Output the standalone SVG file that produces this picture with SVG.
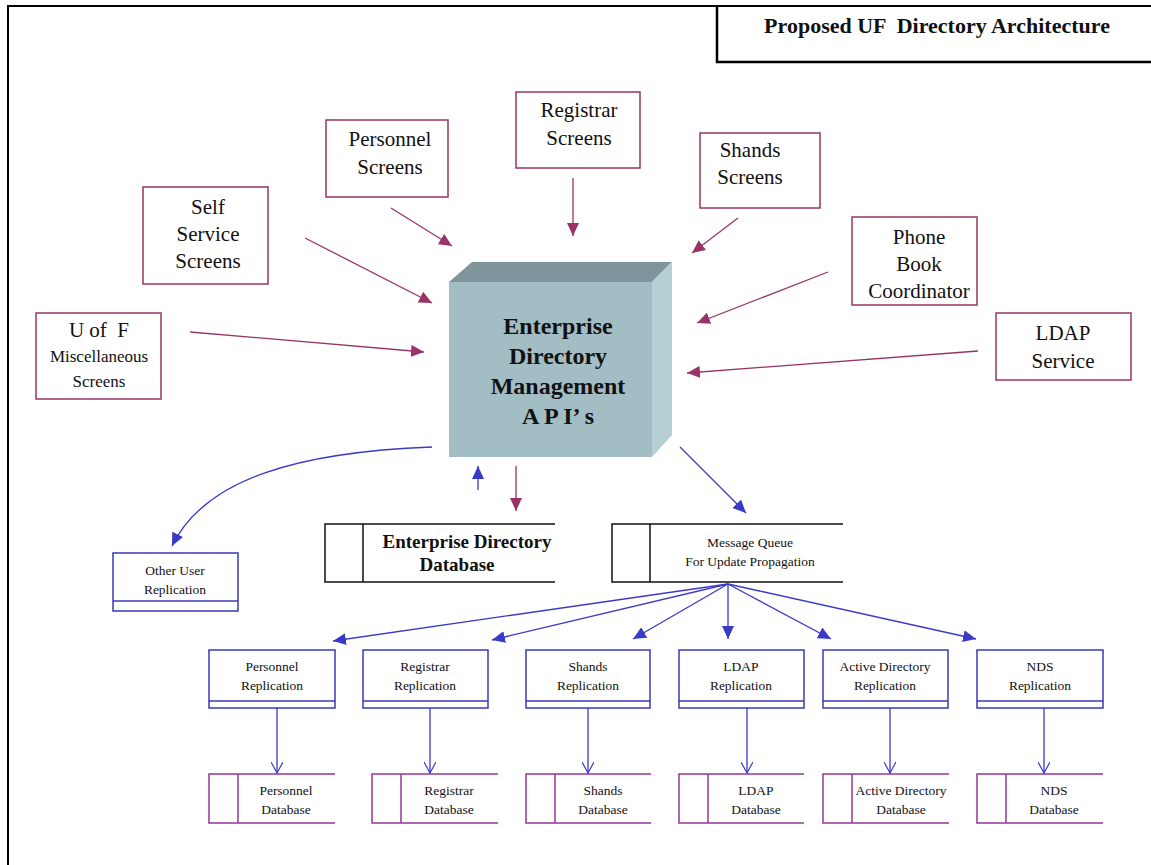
<svg xmlns="http://www.w3.org/2000/svg" width="1151" height="865" viewBox="0 0 1151 865">
<style>
text{font-family:"Liberation Serif","Times New Roman",serif;fill:#111;text-anchor:middle;white-space:pre}
.scr{fill:#fff;stroke:#993366;stroke-width:1.5}
.scrt{font-size:21px}
.rep{fill:#fff;stroke:#3a3ab8;stroke-width:1.5}
.rept{font-size:13.5px}
.db{fill:none;stroke:#993399;stroke-width:1.5}
.dbk{fill:none;stroke:#111;stroke-width:1.5}
.ma{fill:none;stroke:#993366;stroke-width:1.3;marker-end:url(#mh)}
.ba{fill:none;stroke:#3a3ac8;stroke-width:1.3;marker-end:url(#bh)}
.bv{fill:none;stroke:#3a3ac8;stroke-width:1.3;marker-end:url(#bv)}
</style>
<defs>
<marker id="mh" markerUnits="userSpaceOnUse" markerWidth="14" markerHeight="12" refX="13" refY="6" orient="auto"><path d="M0,0 L13,6 L0,12 z" fill="#993366"/></marker>
<marker id="bh" markerUnits="userSpaceOnUse" markerWidth="14" markerHeight="12" refX="13" refY="6" orient="auto"><path d="M0,0 L13,6 L0,12 z" fill="#3a3ac8"/></marker>
<marker id="bv" markerUnits="userSpaceOnUse" markerWidth="12" markerHeight="12" refX="11" refY="6" orient="auto"><path d="M0,0 L11,6 L0,12" fill="none" stroke="#3a3ac8" stroke-width="1.2"/></marker>
</defs>
<rect width="1151" height="865" fill="#fff"/>
<g id="frame" fill="none" stroke="#000">
<path d="M8,865 V6 H1151" stroke-width="2"/>
<path d="M717,6 V62 H1151" stroke-width="2.5"/>
</g>
<g id="title"><text x="937" y="33" font-size="22" font-weight="bold" xml:space="preserve">Proposed UF  Directory Architecture</text></g>

<g id="api">
<polygon points="449,282 472,262 672,262 652,282" fill="#7d959b"/>
<polygon points="652,282 672,262 672,435 652,457" fill="#b6cfd5"/>
<rect x="449" y="282" width="203" height="175" fill="#a3bdc4"/>
<g font-size="24" font-weight="bold">
<text x="558" y="334">Enterprise</text>
<text x="558" y="364">Directory</text>
<text x="558" y="394">Management</text>
<text x="558" y="424">A P I’ s</text>
</g>
</g>

<g id="personnel-screens"><rect class="scr" x="326" y="120" width="122" height="77"/><text class="scrt" x="390" y="146">Personnel</text><text class="scrt" x="390" y="174">Screens</text></g>
<g id="registrar-screens"><rect class="scr" x="516" y="92" width="124" height="76"/><text class="scrt" x="579" y="117">Registrar</text><text class="scrt" x="579" y="145">Screens</text></g>
<g id="shands-screens"><rect class="scr" x="700" y="133" width="120" height="75"/><text class="scrt" x="750" y="157">Shands</text><text class="scrt" x="750" y="184">Screens</text></g>
<g id="self-service-screens"><rect class="scr" x="143" y="187" width="125" height="97"/><text class="scrt" x="208" y="214">Self</text><text class="scrt" x="208" y="241">Service</text><text class="scrt" x="208" y="268">Screens</text></g>
<g id="phone-book"><rect class="scr" x="852" y="217" width="125" height="88"/><text class="scrt" x="919" y="244">Phone</text><text class="scrt" x="919" y="271">Book</text><text class="scrt" x="919" y="298">Coordinator</text></g>
<g id="ldap-service"><rect class="scr" x="996" y="313" width="135" height="67"/><text class="scrt" x="1063" y="340">LDAP</text><text class="scrt" x="1063" y="368">Service</text></g>
<g id="uf-misc"><rect class="scr" x="36" y="313" width="125" height="86"/><text x="99" y="337" font-size="21" xml:space="preserve">U of  F</text><text x="99" y="362" font-size="17">Miscellaneous</text><text x="99" y="387" font-size="17">Screens</text></g>

<g id="ed-database"><path class="dbk" d="M555,524 H325 V582 H555 M363,524 V582"/><g font-size="19" font-weight="bold"><text x="467" y="548">Enterprise Directory</text><text x="457" y="571">Database</text></g></g>
<g id="message-queue"><path class="dbk" d="M843,524 H612 V582 H843 M650,524 V582"/><g font-size="13.5"><text x="750" y="547">Message Queue</text><text x="750" y="566">For Update Propagation</text></g></g>

<g id="other-user-replication"><rect class="rep" x="113" y="553" width="125" height="58"/><line x1="113" y1="601" x2="238" y2="601" stroke="#3a3ab8" stroke-width="1.5"/><text class="rept" x="175" y="575">Other User</text><text class="rept" x="175" y="594">Replication</text></g>

<g id="replications">
<g id="personnel-replication"><rect class="rep" x="209" y="650" width="126" height="58"/><line x1="209" y1="701" x2="335" y2="701" stroke="#3a3ab8" stroke-width="1.5"/><text class="rept" x="272" y="671">Personnel</text><text class="rept" x="272" y="690">Replication</text></g>
<g id="registrar-replication"><rect class="rep" x="363" y="650" width="125" height="58"/><line x1="363" y1="701" x2="488" y2="701" stroke="#3a3ab8" stroke-width="1.5"/><text class="rept" x="425" y="671">Registrar</text><text class="rept" x="425" y="690">Replication</text></g>
<g id="shands-replication"><rect class="rep" x="526" y="650" width="124" height="58"/><line x1="526" y1="701" x2="650" y2="701" stroke="#3a3ab8" stroke-width="1.5"/><text class="rept" x="588" y="671">Shands</text><text class="rept" x="588" y="690">Replication</text></g>
<g id="ldap-replication"><rect class="rep" x="679" y="650" width="125" height="58"/><line x1="679" y1="701" x2="804" y2="701" stroke="#3a3ab8" stroke-width="1.5"/><text class="rept" x="741" y="671">LDAP</text><text class="rept" x="741" y="690">Replication</text></g>
<g id="ad-replication"><rect class="rep" x="823" y="650" width="125" height="58"/><line x1="823" y1="701" x2="948" y2="701" stroke="#3a3ab8" stroke-width="1.5"/><text class="rept" x="885" y="671">Active Directory</text><text class="rept" x="885" y="690">Replication</text></g>
<g id="nds-replication"><rect class="rep" x="977" y="650" width="126" height="58"/><line x1="977" y1="701" x2="1103" y2="701" stroke="#3a3ab8" stroke-width="1.5"/><text class="rept" x="1040" y="671">NDS</text><text class="rept" x="1040" y="690">Replication</text></g>
</g>

<g id="databases">
<g id="personnel-db"><path class="db" d="M335,774 H209 V823 H335 M238,774 V823"/><text class="rept" x="286" y="795">Personnel</text><text class="rept" x="286" y="814">Database</text></g>
<g id="registrar-db"><path class="db" d="M498,774 H372 V823 H498 M401,774 V823"/><text class="rept" x="449" y="795">Registrar</text><text class="rept" x="449" y="814">Database</text></g>
<g id="shands-db"><path class="db" d="M651,774 H526 V823 H651 M555,774 V823"/><text class="rept" x="603" y="795">Shands</text><text class="rept" x="603" y="814">Database</text></g>
<g id="ldap-db"><path class="db" d="M804,774 H679 V823 H804 M708,774 V823"/><text class="rept" x="756" y="795">LDAP</text><text class="rept" x="756" y="814">Database</text></g>
<g id="ad-db"><path class="db" d="M949,774 H823 V823 H949 M852,774 V823"/><text class="rept" x="901" y="795">Active Directory</text><text class="rept" x="901" y="814">Database</text></g>
<g id="nds-db"><path class="db" d="M1103,774 H977 V823 H1103 M1006,774 V823"/><text class="rept" x="1054" y="795">NDS</text><text class="rept" x="1054" y="814">Database</text></g>
</g>

<g id="connectors">
<line class="ma" x1="391" y1="208" x2="452" y2="246"/>
<line class="ma" x1="573" y1="178" x2="573" y2="236"/>
<line class="ma" x1="738" y1="218" x2="692" y2="253"/>
<line class="ma" x1="305" y1="238" x2="432" y2="303"/>
<line class="ma" x1="828" y1="272" x2="697" y2="323"/>
<line class="ma" x1="978" y1="351" x2="687" y2="373"/>
<line class="ma" x1="190" y1="332" x2="424" y2="352"/>
<line class="ba" x1="478" y1="490" x2="478" y2="466"/>
<line class="ma" x1="516" y1="466" x2="516" y2="511"/>
<line class="ba" x1="680" y1="447" x2="746" y2="513"/>
<path class="ba" d="M432,447 C300,452 205,478 172,546"/>
<line class="ba" x1="728" y1="584" x2="333" y2="641"/>
<line class="ba" x1="728" y1="584" x2="492" y2="640"/>
<line class="ba" x1="728" y1="584" x2="633" y2="639"/>
<line class="ba" x1="728" y1="584" x2="728" y2="639"/>
<line class="ba" x1="728" y1="584" x2="831" y2="639"/>
<line class="ba" x1="728" y1="584" x2="976" y2="639"/>
<line class="bv" x1="277" y1="708" x2="277" y2="773"/>
<line class="bv" x1="430" y1="708" x2="430" y2="773"/>
<line class="bv" x1="588" y1="708" x2="588" y2="773"/>
<line class="bv" x1="747" y1="708" x2="747" y2="773"/>
<line class="bv" x1="890" y1="708" x2="890" y2="773"/>
<line class="bv" x1="1044" y1="708" x2="1044" y2="773"/>
</g>
</svg>
